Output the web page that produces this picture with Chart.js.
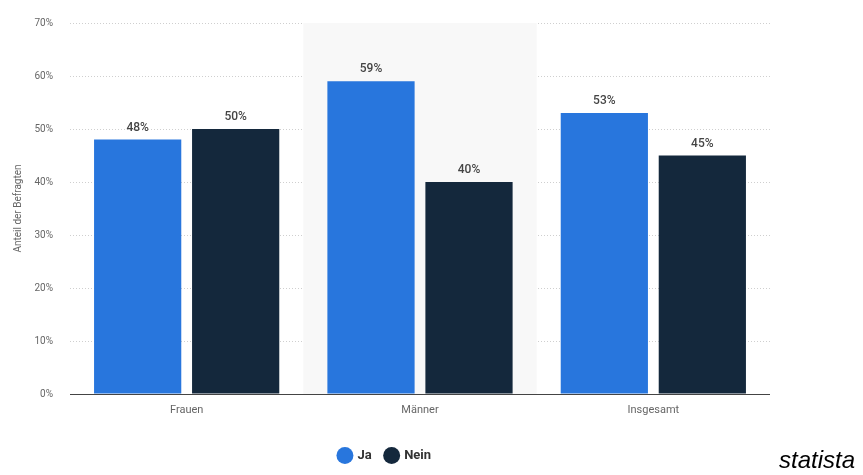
<!DOCTYPE html>
<html><head><meta charset="utf-8">
<script src="https://cdn.jsdelivr.net/npm/chart.js@4.4.1/dist/chart.umd.min.js"></script>
<style>
html,body{margin:0;padding:0;background:#fff;}
#wrap{position:relative;width:863px;height:475px;}
#brand{position:absolute;left:779px;top:446px;font:italic 24px "Liberation Sans",Arial,sans-serif;color:#000;}
</style></head><body>
<div id="wrap"><canvas id="c" width="863" height="475"></canvas><div id="brand">statista</div></div>
<script>
const categories = ["Frauen", "Männer", "Insgesamt"];
const seriesNames = ["Ja", "Nein"];
const jaValues = [48, 59, 53];
const neinValues = [50, 40, 45];
const highlightedCategory = "Männer";
const yTicks = [0, 10, 20, 30, 40, 50, 60, 70];
const yAxisTitle = "Anteil der Befragten";

const fontFamily = "Roboto, 'Noto Sans', sans-serif";

const bgPlugin = {
  id: 'bgHighlight',
  beforeDatasetsDraw(chart) {
    const x = chart.scales.x, y = chart.scales.y, ctx = chart.ctx;
    const i = categories.indexOf(highlightedCategory);
    const w = (x.right - x.left) / categories.length;
    const cx = x.getPixelForValue(i);
    ctx.save();
    ctx.fillStyle = '#f8f8f8';
    ctx.fillRect(cx - w/2, y.getPixelForValue(70), w, y.getPixelForValue(0) - y.getPixelForValue(70));
    ctx.restore();
  }
};

const labelPlugin = {
  id: 'valueLabels',
  afterDatasetsDraw(chart) {
    const ctx = chart.ctx;
    ctx.save();
    ctx.font = "500 12px " + fontFamily;
    ctx.fillStyle = '#444';
    ctx.textAlign = 'center';
    ctx.textBaseline = 'bottom';
    chart.data.datasets.forEach((ds, di) => {
      chart.getDatasetMeta(di).data.forEach((bar, i) => {
        ctx.fillText(ds.data[i] + '%', bar.x, bar.y - 6);
      });
    });
    ctx.restore();
  }
};

const axisLinePlugin = {
  id: 'axisLine',
  afterDatasetsDraw(chart) {
    const x = chart.scales.x, y = chart.scales.y, ctx = chart.ctx;
    ctx.save();
    ctx.strokeStyle = '#444';
    ctx.lineWidth = 1;
    ctx.beginPath();
    const yy = Math.round(y.getPixelForValue(0)) + 0.5;
    ctx.moveTo(x.left, yy); ctx.lineTo(x.right, yy);
    ctx.stroke();
    ctx.restore();
  }
};

new Chart(document.getElementById('c'), {
  type: 'bar',
  data: {
    labels: categories,
    datasets: [
      { label: seriesNames[0], data: jaValues, backgroundColor: '#2876dd', categoryPercentage: 0.84, barPercentage: 0.89 },
      { label: seriesNames[1], data: neinValues, backgroundColor: '#14283c', categoryPercentage: 0.84, barPercentage: 0.89 }
    ]
  },
  options: {
    responsive: false,
    animation: false,
    layout: { padding: { left: 0, right: 93, top: 23, bottom: 3 } },
    plugins: {
      tooltip: { enabled: false },
      legend: {
        position: 'bottom',
        labels: {
          usePointStyle: true, pointStyle: 'circle', boxWidth: 12, boxHeight: 12,
          padding: 14, color: '#333',
          font: { family: fontFamily, size: 13, weight: 'bold' }
        }
      }
    },
    scales: {
      x: {
        grid: { display: false },
        border: { display: false },
        ticks: { color: '#666', font: { family: fontFamily, size: 11 }, padding: 2 },
        afterFit(s) { s.height = 41; }
      },
      y: {
        min: 0, max: 70,
        afterBuildTicks(s) { s.ticks = yTicks.map(v => ({ value: v })); },
        grid: { color: '#cfcfcf', drawTicks: false, lineWidth: 1 },
        border: { display: false, dash: [1, 2] },
        ticks: { color: '#666', font: { family: fontFamily, size: 10 }, padding: 17, callback: v => v + '%' },
        title: { display: true, text: yAxisTitle, color: '#666', font: { family: fontFamily, size: 10 }, padding: { top: 12, bottom: 4 } },
        afterFit(s) { s.width = 70; }
      }
    }
  },
  plugins: [bgPlugin, labelPlugin, axisLinePlugin]
});
</script>
</body></html>
